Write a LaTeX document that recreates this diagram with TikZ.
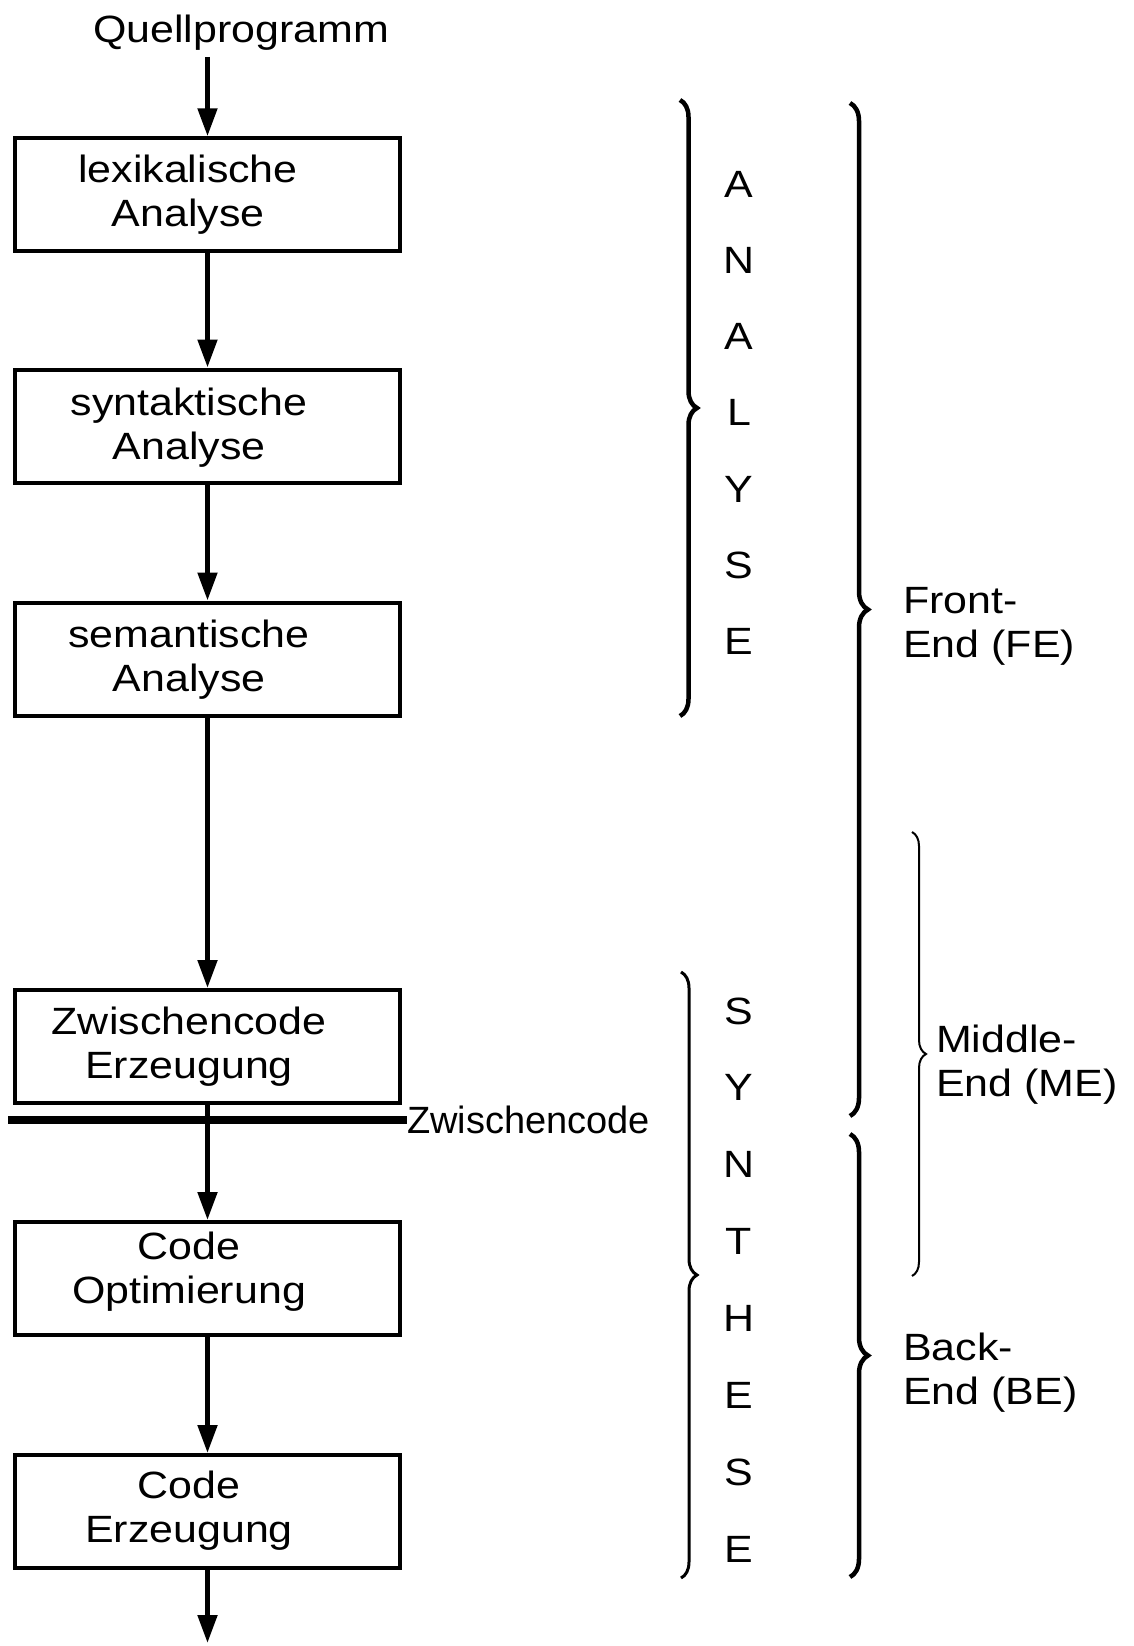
\documentclass[tikz,border=0pt]{standalone}
\usepackage{fontspec}
\setmainfont{Liberation Sans}
\newfontfamily\widefont[FakeStretch=1.13]{Liberation Sans}
\usetikzlibrary{arrows.meta,decorations.pathreplacing}
\tikzset{
  box/.style={draw, line width=4pt, minimum width=385pt, minimum height=113pt, inner sep=0pt},
  btext/.style={font=\widefont\fontsize{38}{44}\selectfont, align=center, inner sep=0pt},
  arr/.style={line width=5pt, -{Triangle[length=28pt,width=19pt]}},
  letter/.style={font=\widefont\fontsize{38}{44}\selectfont, inner sep=0pt},
  side/.style={font=\widefont\fontsize{38}{44}\selectfont, align=left, inner sep=0pt, anchor=base west},
  zlab/.style={font=\fontsize{38}{44}\selectfont, inner sep=0pt, anchor=base west},
  brc/.style={decorate, decoration={brace, amplitude=#1}},
}
\begin{document}
\begin{tikzpicture}[x=1pt,y=-1pt]
\useasboundingbox (0,0) rectangle (1133,1646);
\node[font=\widefont\fontsize{38}{44}\selectfont, anchor=base, inner sep=0pt, outer ysep=6pt] (q) at (241,43) {Quellprogramm};
\node[box] (b1) at (207.5,194.75) {};
\node[box] (b2) at (207.5,426) {};
\node[box] (b3) at (207.5,659) {};
\node[box] (b4) at (207.5,1046.5) {};
\node[box] (b5) at (207.5,1278.5) {};
\node[box] (b6) at (207.5,1511.5) {};
\node[btext] (t1) at (188,195) {lexikalische\\Analyse};
\node[btext] (t2) at (189,428) {syntaktische\\Analyse};
\node[btext] (t3) at (189,660) {semantische\\Analyse};
\node[btext] (t4) at (189,1046.5) {Zwischencode\\Erzeugung};
\node[btext] (t5) at (189,1271.5) {Code\\Optimierung};
\node[btext] (t6) at (189,1511) {Code\\Erzeugung};
\coordinate (fin) at (207.5,1643);
\coordinate (barL) at (8,1120);
\node[zlab] (zl) at (407,1133) {Zwischencode};
\draw[line width=8.5pt] (barL) -- (barL -| zl.west);
\draw[arr] (q.south -| b1.north) -- (b1.north);
\draw[arr] (b1) -- (b2);
\draw[arr] (b2) -- (b3);
\draw[arr] (b3) -- (b4);
\draw[arr] (b4) -- (b5);
\draw[arr] (b5) -- (b6);
\draw[arr] (b6) -- (fin);
% braces
\draw[brc=17, line width=4.5pt] (680,100) -- (680,716);
\draw[brc=18, line width=4.5pt] (850,103) -- (850,1116);
\draw[brc=14, line width=2pt] (912,832) -- (912,1276);
\draw[brc=16, line width=3pt] (681,972) -- (681,1578);
\draw[brc=18, line width=4.5pt] (850,1134) -- (850,1577);
\foreach \c [count=\i from 0] in {A,N,A,L,Y,S,E}
  \node[letter] (an\i) at (739,{184+76.3*\i}) {\c};
\foreach \c [count=\i from 0] in {S,Y,N,T,H,E,S,E}
  \node[letter] (sy\i) at (739,{1011+76.9*\i}) {\c};
\node[side] (fe) at (903,657) {Front-\\End (FE)};
\node[side] (me) at (936,1096) {Middle-\\End (ME)};
\node[side] (be) at (903,1404) {Back-\\End (BE)};
\end{tikzpicture}
\end{document}
